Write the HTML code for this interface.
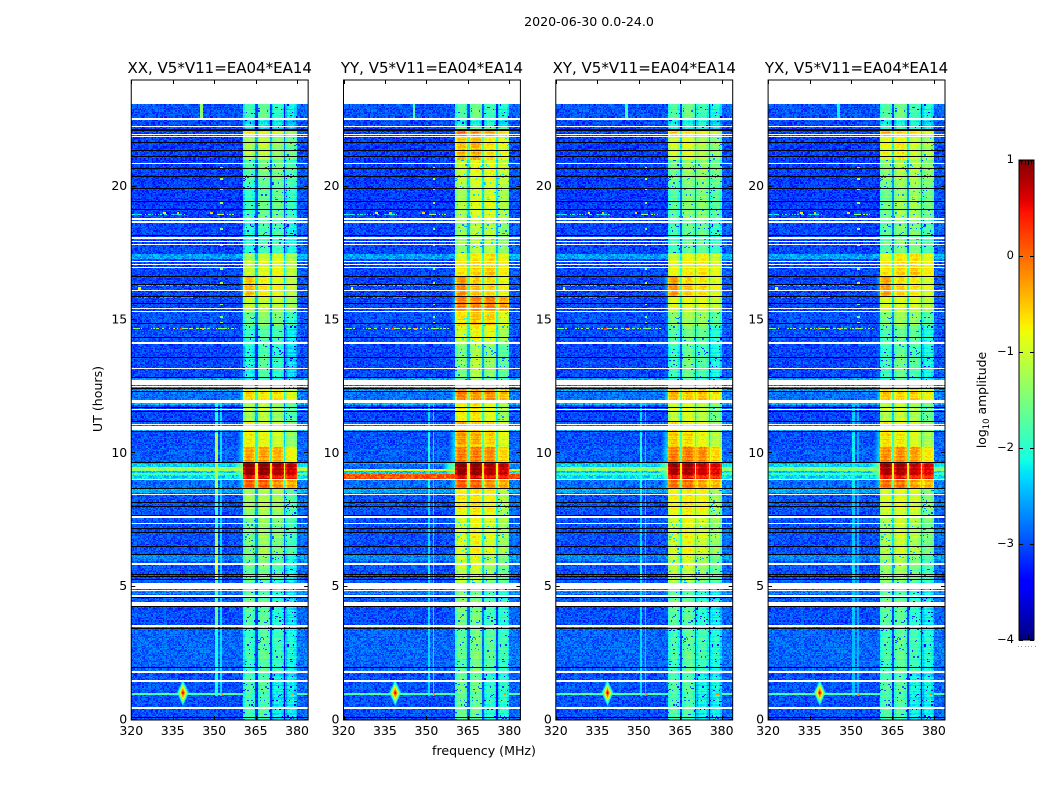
<!DOCTYPE html>
<html>
<head>
<meta charset="utf-8">
<title>2020-06-30 0.0-24.0</title>
<style>
html,body{margin:0;padding:0;background:#fff;}
#figure{position:relative;width:1050px;height:800px;overflow:hidden;background:#fff;}
canvas{position:absolute;image-rendering:pixelated;}
svg{position:absolute;left:0;top:0;}
text{font-family:"DejaVu Sans","Liberation Sans",sans-serif;fill:#000;}
</style>
</head>
<body>
<div id="figure">
<svg id="overlay" width="1050" height="800">
<text x="589" y="26" font-size="12.6" text-anchor="middle">2020-06-30 0.0-24.0</text>
<text x="484" y="755" font-size="12.6" text-anchor="middle">frequency (MHz)</text>
<text transform="translate(102,399) rotate(-90)" font-size="12.6" text-anchor="middle">UT (hours)</text>
<text transform="translate(986,400) rotate(-90)" font-size="12.4" text-anchor="middle">log<tspan font-size="8.5" dy="3">10</tspan><tspan dy="-3"> amplitude</tspan></text>
</svg>
</div>
<script>
/* ---------- chart data ---------- */
const panelNames = ["XX","YY","XY","YX"];
const titleSuffix = ", V5*V11=EA04*EA14";
const xTicks = [320,335,350,365,380];
const yTicks = [0,5,10,15,20];
const cbarTicks = [1,0,-1,-2,-3,-4];
const freqRange = [320,384];
const timeRange = [0,24];
const cbarRange = [-4,1];
const dataTop = 23.1;

/* [tStart,tEnd,off-band,sub1,sub2,sub3,sub4,shoulder] log10 amplitude */
const segments = [
[22.55,23.1,-3.0,-1.9,-1.7,-2.0,-2.2,null],
[22.17,22.55,-3.05,-2.2,-2.2,-2.2,-2.4,null],
[21.85,22.17,-3.05,-0.8,-1.0,-1.1,-1.4,null],
[21.0,21.85,-3.1,-1.2,-1.1,-1.4,-1.6,null],
[20.0,21.0,-3.1,-1.8,-1.6,-1.6,-1.8,null],
[18.8,20.0,-3.1,-1.9,-1.6,-1.6,-1.9,null],
[17.5,18.8,-3.05,-2.0,-1.8,-1.8,-2.1,null],
[17.25,17.5,-3.05,-1.3,-1.1,-1.0,-1.3,null],
[16.6,17.25,-3.05,-1.05,-0.95,-0.9,-1.1,null],
[15.9,16.6,-3.05,-0.45,-0.75,-0.85,-1.05,-2.6],
[15.3,15.9,-3.05,-1.1,-1.1,-1.1,-1.3,-2.8],
[14.8,15.3,-3.0,-1.6,-1.4,-1.5,-1.9,-2.8],
[14.1,14.8,-3.0,-1.9,-1.7,-1.8,-2.2,null],
[12.75,14.1,-3.05,-2.1,-1.8,-2.0,-2.3,null],
[12.45,12.75,-2.85,-1.4,-1.4,-1.4,-1.5,null],
[12.0,12.45,-2.85,-0.6,-0.7,-0.7,-0.95,-2.4],
[11.2,12.0,-3.05,-1.2,-1.1,-1.3,-1.7,null],
[10.79,11.2,-2.85,-0.7,-0.9,-1.0,-1.4,null],
[10.25,10.79,-3.0,-0.7,-0.8,-1.0,-1.3,-2.4],
[9.65,10.25,-2.95,-0.3,-0.3,-0.4,-0.8,-2.3],
[9.2,9.65,-2.4,0.95,0.95,0.8,0.7,-1.4],
[9.05,9.2,-2.3,0.55,0.6,0.5,0.45,-1.7],
[8.68,9.05,-2.85,0.1,0.1,-0.2,-0.3,-2.3],
[7.6,8.68,-3.0,-1.3,-1.2,-1.3,-1.8,null],
[6.2,7.6,-3.0,-1.5,-1.3,-1.5,-1.8,null],
[5.25,6.2,-3.0,-1.6,-1.5,-1.8,-2.1,null],
[4.43,5.25,-2.95,-1.6,-1.7,-2.0,-2.2,null],
[3.5,4.43,-3.0,-1.7,-1.7,-2.0,-2.2,null],
[1.85,3.5,-2.9,-1.9,-1.7,-1.9,-2.1,null],
[0,1.85,-3.0,-1.8,-1.8,-2.2,-2.2,null]
];
/* frequency edges of the four sub-bands (MHz) */
const subbands = [[360.5,364.8],[365.7,370.2],[370.8,375.3],[375.8,380]];
/* band level change per polarisation: [tStart,tEnd,delta] */
const bandAdjustXX = [];
const bandAdjustYY = [[0,5,.2],[5,8.68,.55],[8.68,9.65,0],[9.65,10.3,.2],[10.3,12.5,.45],[12.5,14.1,.6],[14.1,15.9,.95],[15.9,16.6,.25],[16.6,17.5,.35],[17.5,22.2,.7],[22.2,23.1,.1]];
const bandAdjustXY = [[0,5,.05],[5,8.68,.5],[8.68,9.65,-.1],[9.65,12.5,.2],[12.5,14.1,.2],[14.1,16.6,.2],[16.6,22.2,.2],[22.2,23.1,.1]];
const bandAdjustYX = [[0,5,.05],[5,8.68,.3],[8.68,9.65,-.1],[9.65,12.5,.1],[12.5,14.1,.2],[14.1,16.6,.15],[16.6,22.2,.35],[22.2,23.1,.1]];
/* raised off-band rows common to all: [tStart,tEnd,level] */
const offBumps = [
[17.29,17.48,-2.6],[12.73,12.82,-2.6],[12.42,12.49,-2.7],[12.3,12.37,-2.55],
[11.8,11.91,-2.55],[10.79,10.89,-2.55],[8.5,8.64,-2.6],[5.95,6.17,-2.75],
[4.72,4.87,-2.75],[0.96,1.0,-1.8]
];
/* off-band rows per polarisation: [tStart,tEnd,level] */
const offRowsXX = [[9.33,9.47,-1.3],[9.2,9.25,-1.8]];
const offRowsYY = [[9.05,9.24,0.1],[9.33,9.42,-0.8],[9.43,9.6,-2.9]];
const offRowsXY = [[9.33,9.47,-1.4],[9.2,9.25,-1.9]];
const offRowsYX = [[9.33,9.47,-1.5],[9.2,9.25,-1.9]];
/* narrow vertical interference: [freq,halfWidth,tStart,tEnd,levelXX,levelYY,levelXY,levelYX] */
const rfiLines = [
[350.9,0.45,0.9,3.5,-2.1,-2.3,-2.3,-2.45],
[350.9,0.45,3.5,5.25,-1.6,-2.3,-2.3,-2.4],
[350.9,0.45,5.25,6.0,-0.9,-2.2,-2.1,-2.3],
[350.9,0.45,6.0,7.0,-1.2,-2.3,-2.3,-2.4],
[350.9,0.45,7.0,8.5,-1.9,-2.3,-2.3,-2.4],
[350.9,0.45,8.5,10.75,-1.2,-2.1,-2.1,-2.2],
[350.9,0.45,10.75,12.0,-2.1,-2.3,-2.3,-2.4],
[352.5,0.25,0.9,12.0,-2.3,-2.3,-2.4,-2.5],
[345.5,0.5,22.5,23.1,-1.4,-1.8,-1.9,-2.2]
];
/* narrow horizontal interference: [t,fStart,fEnd,level] */
const spurRows = [
[18.95,351,357,-1.5],[18.95,320,340,-2.5],[16.28,322,352,-2.6],
[15.85,322,345,-2.7],[14.67,320,358,-1.6],[14.34,325,358,-2.2]
];
/* isolated hot channels: [freq,t,level] */
const spurDots = [
[352.8,.975,-.2],[378.5,.975,-.2],[352.7,19.4,-1.2],[352.7,19.9,-1.4],[352.7,20.3,-1.2],[352.7,20.7,-1.3],
[352.7,18.4,-1.4],[352.7,17.8,-1.3],[352.7,16.9,-1.3],[352.7,16.4,-1.3],[352.7,15.6,-1.4],[352.7,15.1,-1.5],
[352.7,14.9,-1.4],[349,19.0,-.6],[337,19.0,-.5],[332,19.0,-.7],[338,14.67,.2],[346,14.67,-.4],[323,16.18,-.8],[340,15.85,.1]
];
/* diamond glows: [freq,t,peak,fScale,tScale] */
const blobs = [[338.7,1.02,.8,2.2,.5],[338.7,.98,-1.6,10,.22]];
/* flagged (white) time ranges */
const whiteRows = [
[22.51,22.56],[22.23,22.28],[21.95,21.98],[21.86,21.90],[20.86,20.90],[18.77,18.83],[18.66,18.72],
[18.05,18.09],[17.94,17.97],[17.82,17.86],[17.19,17.22],[17.07,17.11],[16.95,16.99],[16.10,16.13],
[15.41,15.44],[15.32,15.35],[14.11,14.17],[13.18,13.21],[12.55,12.73],[12.49,12.53],[11.91,12.0],
[11.64,11.67],[11.08,11.11],[10.89,11.01],[9.01,9.05],[8.45,8.49],[7.59,7.63],[7.35,7.39],[5.83,5.87],
[4.91,5.15],[4.85,4.88],[4.63,4.68],[4.27,4.42],[3.50,3.54],[1.75,1.83],[1.44,1.51],[0.42,0.47]
];
/* zero-amplitude (black) time ranges */
const blackRows = [
[22.10,22.17],[21.65,21.68],[21.35,21.38],[21.12,21.15],[20.67,20.70],[20.36,20.39],[19.93,19.96],
[19.42,19.45],[19.12,19.15],[18.15,18.18],[16.60,16.63],[16.32,16.35],[15.85,15.88],[15.60,15.63],
[14.85,14.88],[14.33,14.36],[13.58,13.61],[12.83,12.86],[12.41,12.44],[12.32,12.35],[11.72,11.75],
[11.57,11.60],[11.18,11.21],[10.79,10.82],[9.63,9.66],[8.67,8.70],[8.16,8.19],[7.98,8.01],[7.66,7.69],
[7.17,7.20],[7.02,7.05],[6.51,6.54],[6.19,6.22],[5.44,5.47],[5.35,5.38],[5.25,5.28],[4.58,4.61],
[4.25,4.28],[3.42,3.45],[1.96,1.99],[0.08,0.11]
];
/* fixed texture tables standing in for the unreadable per-cell noise */
const cellTexture = [.31,-.72,.55,-.18,.84,-.41,.12,-.93,.67,.05,-.58,.29,-.11,.76,-.35,.48,-.84,.21,.62,-.27,.93,-.64,.08,.39,-.49,.71,-.03,-.78,.44,.17,-.96,.58,
-.22,.81,-.53,.36,.02,-.69,.74,-.14,.52,-.87,.26,.66,-.38,.1,-.61,.89,-.07,.33,-.75,.47,-.29,.6,.15,-.9,.78,-.44,.24,-.16,.69,-.56,.4,-.01];
const rowTexture = [.4,-.6,.1,.7,-.3,-.8,.5,.2,-.1,.9,-.5,.3,-.7,.6,0,-.4,.8,-.2,-.9,.35,.55,-.65,.15,-.25,.75,-.45,.05,.65,-.85,.25,-.15,.45];

/* ---------- axis functions ---------- */
const panelLeft = [131.25,343.5,555.8,768.1];
const panelWidth = 176.9, plotTop = 80, plotHeight = 640;
const cbarX = 1019, cbarW = 15, cbarY = 160, cbarH = 480;
function xScale(p,f){return panelLeft[p]+(f-freqRange[0])/(freqRange[1]-freqRange[0])*panelWidth;}
function yScale(t){return plotTop+plotHeight-(t-timeRange[0])/(timeRange[1]-timeRange[0])*plotHeight;}
function cbarScale(v){return cbarY+(cbarRange[1]-v)/(cbarRange[1]-cbarRange[0])*cbarH;}
function ramp(v,a,b){return Math.max(0,Math.min(1,(v-a)/(b-a)));}
function jet(n){
  let r,g,b;
  r = n<.35?0:n<.66?ramp(n,.35,.66):n<.89?1:1-.5*ramp(n,.89,1);
  g = n<.125?0:n<.375?ramp(n,.125,.375):n<.64?1:n<.91?1-ramp(n,.64,.91):0;
  b = n<.11?.5+.5*ramp(n,0,.11):n<.34?1:n<.65?1-ramp(n,.34,.65):0;
  return [Math.round(r*255),Math.round(g*255),Math.round(b*255)];
}
function inRange(list,t0,t1){
  for(const r of list){
    const ov=Math.min(t1,r[1])-Math.max(t0,r[0]);
    if(ov>=(t1-t0)*.4) return r;
  }
  return null;
}
const bandAdjust=[bandAdjustXX,bandAdjustYY,bandAdjustXY,bandAdjustYX];
const offRows=[offRowsXX,offRowsYY,offRowsXY,offRowsYX];

function cellValue(p,t,f,row,col,rowSpan){
  const seg=segments.find(s=>t>=s[0]&&t<s[1])||segments[segments.length-1];
  const idx=(col*7+row*13+(col*row)%11)%cellTexture.length;
  const n=cellTexture[idx], rn=rowTexture[row%rowTexture.length];
  let off=seg[2];
  const bump=inRange(offBumps,t-rowSpan/2,t+rowSpan/2); if(bump) off=bump[2];
  const pr=inRange(offRows[p],t-rowSpan/2,t+rowSpan/2); if(pr) off=pr[2];
  let delta=0; for(const a of bandAdjust[p]) if(t>=a[0]&&t<a[1]) delta=a[2];
  let v=off+n*.3+rn*.04;
  if(f>=subbands[0][0]&&f<subbands[3][1]){
    let k=-1; for(let i=0;i<4;i++) if(f>=subbands[i][0]&&f<subbands[i][1]) k=i;
    if(k>=0){
      const edge=Math.min(f-subbands[k][0],subbands[k][1]-f);
      v=seg[3+k]+delta+n*.16+rn*.17-(edge<.5?.32:edge<1?.12:0);
      if(n<-.88&&seg[3+k]<-1.4) v-=1.1;
    }else{
      let near=0; for(let i=0;i<3;i++) if(f>=subbands[i][1]&&f<subbands[i+1][0]) near=i;
      v=Math.max(seg[3+near],seg[4+near])+delta-(seg[3+near]>-.5?1.7:1.35)+n*.15;
      if(seg[3+near]<-.5) v=Math.min(v,-2.7+n*.2+(seg[3+near]+delta+1.8)*.7);
    }
  }else if(f<subbands[0][0]&&seg[7]!==null){
    v=Math.max(v,seg[7]+delta*.3-(subbands[0][0]-f)*.3+n*.15);
  }else if(f>=subbands[3][1]){
    v+=.1;
  }
  for(const l of rfiLines){
    if(Math.abs(f-l[0])<l[1]&&t>=l[2]&&t<l[3]) v=Math.max(v,l[4+p]+n*.1);
  }
  for(const s of spurRows){
    if(Math.abs(t-s[0])<rowSpan*.6&&f>=s[1]&&f<s[2]&&n>-.1) v=Math.max(v,s[3]+n*.6);
  }
  for(const d of spurDots){
    if(Math.abs(t-d[1])<rowSpan*1.1&&Math.abs(f-d[0])<.45) v=Math.max(v,d[2]);
  }
  for(const b of blobs){
    const dist=Math.abs(f-b[0])/b[3]+Math.abs(t-b[1])/b[4];
    v=Math.max(v,b[2]-3.5*dist+n*.1);
  }
  return v;
}

/* ---------- heatmap rendering ---------- */
const fig=document.getElementById('figure');
const svg=document.getElementById('overlay');
const NS='http://www.w3.org/2000/svg';
function drawHeatmap(p){
  const cv=document.createElement('canvas');
  
  
  const left=Math.round(panelLeft[p]);
  const w=Math.round(panelWidth), h=plotHeight;
  cv.width=w;cv.height=h;
  cv.style.left=left+'px';cv.style.top=plotTop+'px';
  cv.style.width=w+'px';cv.style.height=h+'px';
  const ctx=cv.getContext('2d');
  const img=ctx.createImageData(w,h);
  const span=(timeRange[1]-timeRange[0])/plotHeight;
  const range=cbarRange[1]-cbarRange[0];
  for(let y=0;y<h;y++){
    const t1=timeRange[1]-y*span, t0=t1-span, t=(t0+t1)/2;
    const white=t>dataTop||inRange(whiteRows,t0,t1);
    const black=!white&&inRange(blackRows,t0,t1);
    const row=Math.floor(t/.045);
    for(let x=0;x<w;x++){
      const i=(y*w+x)*4;
      let c;
      if(white) c=[255,255,255];
      else if(black) c=[0,0,0];
      else{
        const f=freqRange[0]+(x+.5+left-panelLeft[p])/panelWidth*(freqRange[1]-freqRange[0]);
        const col=Math.floor((f-freqRange[0])*2);
        const v=cellValue(p,t,f,row,col,span);
        c=jet(Math.max(0,Math.min(1,(v-cbarRange[0])/range)));
      }
      img.data[i]=c[0];img.data[i+1]=c[1];img.data[i+2]=c[2];img.data[i+3]=255;
    }
  }
  ctx.putImageData(img,0,0);
  fig.insertBefore(cv,svg);
}
function line(x1,y1,x2,y2,name){
  const l=document.createElementNS(NS,'line');
  l.setAttribute('x1',x1);l.setAttribute('y1',y1);l.setAttribute('x2',x2);l.setAttribute('y2',y2);
  l.setAttribute('stroke','#000');l.setAttribute('stroke-width','1');
  
  
  svg.appendChild(l);
}
function label(x,y,str,anchor,size,name){
  const e=document.createElementNS(NS,'text');
  e.setAttribute('x',x);e.setAttribute('y',y);e.setAttribute('text-anchor',anchor);e.setAttribute('font-size',size);
  e.textContent=str;
  
  
  svg.appendChild(e);
}
function frame(x,y,w,h,name){
  const r=document.createElementNS(NS,'rect');
  r.setAttribute('x',x);r.setAttribute('y',y);r.setAttribute('width',w);r.setAttribute('height',h);
  r.setAttribute('fill','none');r.setAttribute('stroke','#000');r.setAttribute('stroke-width','1');
  
  
  svg.appendChild(r);
}
function minus(v){return v<0?'\u2212'+Math.abs(v):String(v);}

panelNames.forEach((nm,p)=>{
  drawHeatmap(p);
  const low=nm.toLowerCase();
  frame(panelLeft[p],plotTop,panelWidth,plotHeight,'plot-frame-'+low);
  xTicks.forEach(v=>{
    const x=Math.round(xScale(p,v))+.5;
    line(x,plotTop,x,plotTop+4,'x-tick-top-'+v);
    line(x,plotTop+plotHeight-4,x,plotTop+plotHeight,'x-tick-bottom-'+v);
    label(xScale(p,v),plotTop+plotHeight+15,String(v),'middle',12.5,'x-tick-label-'+v);
  });
  yTicks.forEach(v=>{
    const y=Math.round(yScale(v))-.5;
    line(panelLeft[p],y,panelLeft[p]+4,y,'y-tick-left-'+v);
    line(panelLeft[p]+panelWidth-4,y,panelLeft[p]+panelWidth,y,'y-tick-right-'+v);
    label(panelLeft[p]-4,yScale(v)+3.5,String(v),'end',12.5,'y-tick-label-'+v);
  });
  label(panelLeft[p]+panelWidth/2,73,nm+titleSuffix,'middle',15,'panel-title-'+low);
});

/* ---------- colour bar ---------- */
(function(){
  const defs=document.createElementNS(NS,'defs');
  const g=document.createElementNS(NS,'linearGradient');
  g.setAttribute('id','jetGradient');
  g.setAttribute('x1','0');g.setAttribute('y1','1');g.setAttribute('x2','0');g.setAttribute('y2','0');
  for(let i=0;i<=64;i++){
    const s=document.createElementNS(NS,'stop');
    const c=jet(i/64);
    s.setAttribute('offset',(i/64*100)+'%');
    s.setAttribute('stop-color','rgb('+c.join(',')+')');
    g.appendChild(s);
  }
  defs.appendChild(g);svg.appendChild(defs);
  const r=document.createElementNS(NS,'rect');
  r.setAttribute('x',cbarX);r.setAttribute('y',cbarY);r.setAttribute('width',cbarW);r.setAttribute('height',cbarH);
  r.setAttribute('fill','url(#jetGradient)');
  
  
  svg.appendChild(r);
  frame(cbarX,cbarY,cbarW,cbarH,'colorbar-frame');
  cbarTicks.forEach(v=>{
    const y=Math.round(cbarScale(v))+.5;
    line(cbarX,y,cbarX+4,y,'colorbar-tick-left-'+v);
    line(cbarX+cbarW-4,y,cbarX+cbarW,y,'colorbar-tick-right-'+v);
    label(cbarX-5,cbarScale(v)+3,minus(v),'end',11.5,'colorbar-tick-label-'+v);
  });
  for(let i=0;i<6;i++){
    const x=Math.round(1018+i*3.3)+.5;
    if(i>0&&i<5){
      line(x,cbarY,x,cbarY+5,'colorbar-top-tick');
      line(x,cbarY+cbarH-5,x,cbarY+cbarH,'colorbar-bottom-tick');
    }
    const d=document.createElementNS(NS,'rect');
    d.setAttribute('x',x-.5);d.setAttribute('y',646);d.setAttribute('width',1);d.setAttribute('height',1);
    d.setAttribute('fill','#999');
    
    
    svg.appendChild(d);
  }
})();
</script>
</body>
</html>
